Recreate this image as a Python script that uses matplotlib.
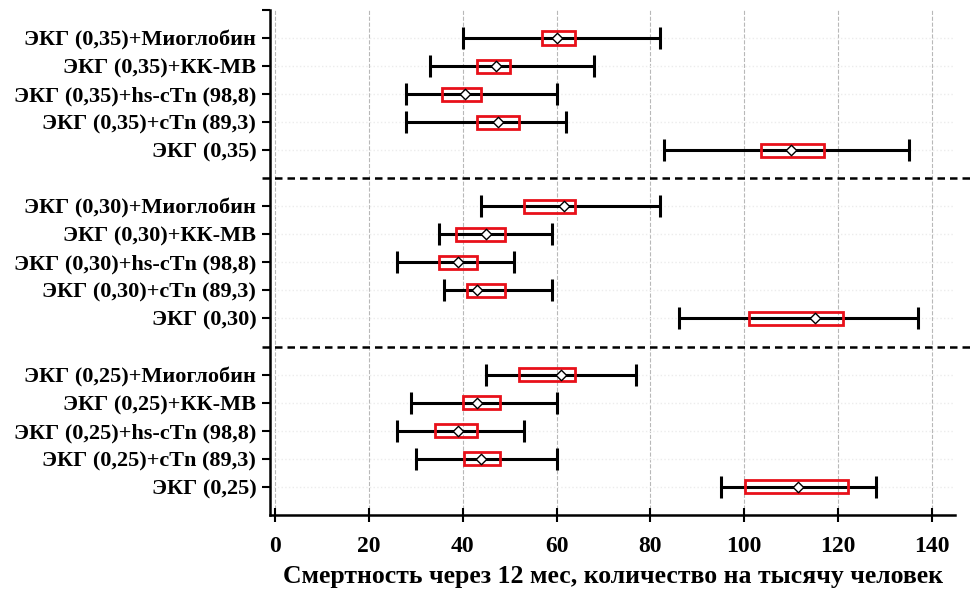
import numpy as np
import matplotlib.pyplot as plt

# Rows listed top to bottom inside each group
labels = [
    "ЭКГ (0,35)+Миоглобин", "ЭКГ (0,35)+КК-МВ", "ЭКГ (0,35)+hs-cTn (98,8)",
    "ЭКГ (0,35)+cTn (89,3)", "ЭКГ (0,35)",
    "ЭКГ (0,30)+Миоглобин", "ЭКГ (0,30)+КК-МВ", "ЭКГ (0,30)+hs-cTn (98,8)",
    "ЭКГ (0,30)+cTn (89,3)", "ЭКГ (0,30)",
    "ЭКГ (0,25)+Миоглобин", "ЭКГ (0,25)+КК-МВ", "ЭКГ (0,25)+hs-cTn (98,8)",
    "ЭКГ (0,25)+cTn (89,3)", "ЭКГ (0,25)",
]
whis_lo = [40, 33, 28, 28, 83,   44, 35, 26, 36, 86,   45, 29, 26, 30, 95]
q1      = [57, 43, 35.5, 43, 103.5,   53, 38.5, 35, 41, 101,   52, 40, 34.2, 40.2, 100.2]
median  = [60, 47, 40.5, 47.5, 110,   61.5, 45, 39, 43, 115,   61, 43, 39, 44, 111.5]
q3      = [64, 50, 44, 52, 117,   64, 49, 43, 49, 121,   64, 48, 43, 48, 122]
whis_hi = [82, 68, 60, 62, 135,   82, 59, 51, 59, 137,   77, 60, 53, 60, 128]

xlabel = "Смертность через 12 мес, количество на тысячу человек"
xticks = [0, 20, 40, 60, 80, 100, 120, 140]

# y positions: three groups of five, one empty slot between groups
ypos = []
for g in range(3):
    for r in range(5):
        ypos.append(16 - g * 6 - r)
ypos = np.array(ypos)
separators = [11, 5]

plt.rcParams['font.family'] = ['Liberation Serif', 'DejaVu Serif']
plt.rcParams['font.weight'] = 'bold'

fig = plt.figure(figsize=(9.72, 5.91), dpi=100)
ax = fig.add_axes([0.278, 0.129, 0.705, 0.854])

lo = np.array(median) - np.array(whis_lo)
hi = np.array(whis_hi) - np.array(median)
ax.errorbar(median, ypos, xerr=[lo, hi], fmt='none', ecolor='black',
            elinewidth=2.2, capsize=8, capthick=2.2, zorder=3)
ax.barh(ypos, np.array(q3) - np.array(q1), left=q1, height=0.47,
        facecolor='none', edgecolor='#e8101a', linewidth=2, zorder=4)
ax.scatter(median, ypos, marker='D', s=28, facecolor='white',
           edgecolor='black', linewidth=1, zorder=5)

for s in separators:
    ax.plot([-0.012, 1.03], [s, s], transform=ax.get_yaxis_transform(),
            color='black', linestyle=(0, (3, 2)), linewidth=1.8,
            clip_on=False, zorder=2)

for y in ypos:
    ax.axhline(y, color='#ececec', linestyle=':', linewidth=1, zorder=1)

ax.set_xlim(-1, 145)
ax.set_ylim(-1, 17)
ax.set_xticks(xticks)
ax.set_yticks(list(ypos) + [17])
ax.set_yticklabels(labels + [""], fontsize=16, fontweight='bold')
ax.grid(axis='x', color='#b8b8b8', linestyle='--', linewidth=0.8)
ax.set_axisbelow(True)

ax.spines['top'].set_visible(False)
ax.spines['right'].set_visible(False)
ax.spines['left'].set_linewidth(1.8)
ax.spines['bottom'].set_linewidth(1.8)
ax.tick_params(axis='x', direction='inout', length=10, width=1.5,
               labelsize=17, pad=10)
ax.tick_params(axis='y', direction='out', length=6, width=1.5, pad=4)
for t in ax.get_xticklabels():
    t.set_fontweight('bold')
ax.set_xlabel(xlabel, fontsize=18.5, fontweight='bold', labelpad=6)

fig.savefig('out.png', dpi=100)
